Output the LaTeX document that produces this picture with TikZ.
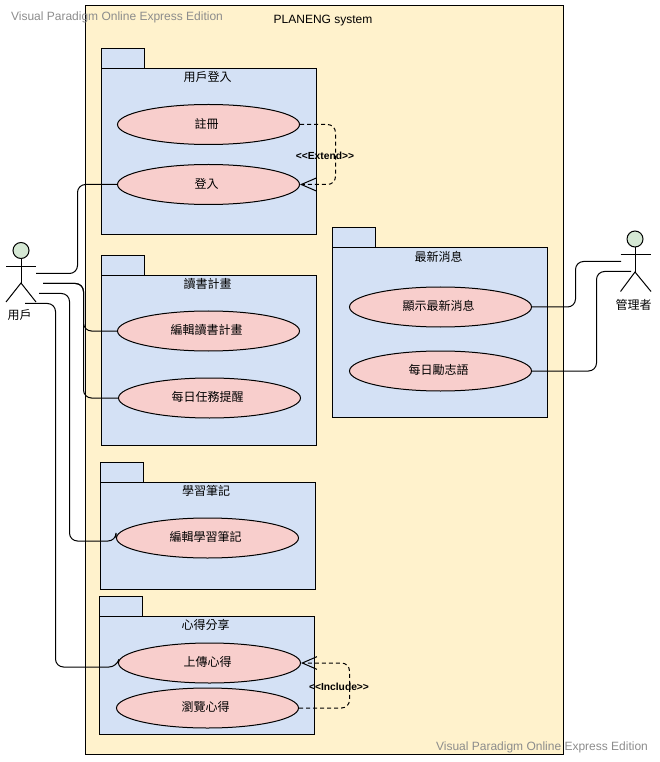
\documentclass[tikz,border=0pt]{standalone}
\usepackage{fontspec}
\setmainfont{Liberation Sans}
\newfontfamily\cjk{Noto Sans CJK TC}
\usetikzlibrary{shapes.geometric,arrows.meta}
\definecolor{sysfill}{HTML}{FFF2CC}
\definecolor{pkgfill}{HTML}{D4E1F5}
\definecolor{casefill}{HTML}{F8CECC}
\definecolor{headfill}{HTML}{D5E8D4}
\newcommand{\caselabel}[1]{\raisebox{2.25pt}{#1\kern3pt}}
\tikzset{
  usecase/.style={ellipse,draw,fill=casefill,minimum width=136.5pt,minimum height=30pt,inner sep=0pt,font=\cjk\fontsize{9}{11}\selectfont},
  pkg/.style={draw,fill=pkgfill},
  title/.style={inner sep=0pt,font=\cjk\fontsize{9}{11}\selectfont},
  link/.style={rounded corners=6pt},
  dep/.style={rounded corners=6pt,dashed,dash pattern=on 3pt off 2.25pt,->},
  stereo/.style={inner sep=0pt,font=\bfseries\fontsize{7.7}{9}\selectfont},
  stamp/.style={inner sep=0pt,text=black!45,font=\fontsize{9}{11}\selectfont}
}
\begin{document}
\begin{tikzpicture}[x=0.75pt,y=-0.75pt,line width=0.75pt,>={Straight Barb[length=11pt,width=9.5pt]}]
  \useasboundingbox (0,0) rectangle (659,762);
  % system boundary
  \draw[fill=sysfill] (85.5,5.5) rectangle (563.5,754.5);
  \node[inner sep=0pt,font=\fontsize{9}{11}\selectfont] (sys) at (323,20.5) {PLANENG system};
  % packages
  \draw[pkg] (101.5,48.5) rectangle (144.5,68.5);
  \draw[pkg] (101.5,68.5) rectangle (316.5,234.5);
  \draw[pkg] (101.5,255.5) rectangle (144.5,275.5);
  \draw[pkg] (101.5,275.5) rectangle (316.5,445.5);
  \draw[pkg] (100.5,462.5) rectangle (143.5,482.5);
  \draw[pkg] (100.5,482.5) rectangle (315.5,589.5);
  \draw[pkg] (99.5,596.5) rectangle (142.5,616.5);
  \draw[pkg] (99.5,616.5) rectangle (314.5,734.5);
  \draw[pkg] (332.5,227.5) rectangle (375.5,247.5);
  \draw[pkg] (332.5,247.5) rectangle (547.5,417.5);
  \node[title] (pkgLogin) at (207.5,76.5) {用戶登入};
  \node[title] (pkgPlan) at (207.5,284) {讀書計畫};
  \node[title] (pkgNote) at (206,491) {學習筆記};
  \node[title] (pkgShare) at (205.5,624.5) {心得分享};
  \node[title] (pkgNews) at (438.5,257) {最新消息};
  % use cases
  \node[usecase] (register) at (208.5,124.5) {\caselabel{註冊}};
  \node[usecase] (login) at (208.5,184.5) {\caselabel{登入}};
  \node[usecase] (editPlan) at (208.5,331) {\caselabel{編輯讀書計畫}};
  \node[usecase] (remind) at (209.5,398) {\caselabel{每日任務提醒}};
  \node[usecase] (editNote) at (207.5,538) {\caselabel{編輯學習筆記}};
  \node[usecase] (upload) at (209.5,663) {\caselabel{上傳心得}};
  \node[usecase] (browse) at (207.5,708) {\caselabel{瀏覽心得}};
  \node[usecase] (news) at (440.5,307) {\caselabel{顯示最新消息}};
  \node[usecase] (quote) at (440.5,371) {\caselabel{每日勵志語}};
  % actor: user
  \draw[fill=headfill] (21,250.5) circle (8);
  \draw (21,258.5)--(21,283);
  \draw (6,266.5)--(36,266.5);
  \draw (6,302)--(21,283)--(36,302);
  \node[title] (user) at (19.5,315) {用戶};
  % actor: admin
  \draw[fill=headfill] (635,239) circle (8);
  \draw (635,247)--(635,272);
  \draw (620.5,255)--(651,255);
  \draw (620.5,291.5)--(635,272)--(651,291.5);
  \node[title] (admin) at (633.5,305) {管理者};
  % free ends at the actors
  \coordinate (u1) at (36,273.5);
  \coordinate (u2) at (43,283.5);
  \coordinate (u3) at (39,293.5);
  \coordinate (u4) at (25,303.5);
  \coordinate (a1) at (621,261.5);
  \coordinate (a2) at (631,271.5);
  % actor links
  \draw[link] (u1) -| (77.5,230) |- (login.west);
  \draw[link] (u2) -| (83.5,310) |- (editPlan.west);
  \draw[link] (u2) -| (83.5,350) |- (remind.west);
  \draw[link] (u3) -| (69.5,400) |- (116,541) [rounded corners=1pt] -- (editNote.west);
  \draw[link] (u4) -| (55.5,500) |- (117,667) [rounded corners=1pt] -- (upload.west);
  \draw[link] (a1) -| (575.5,290) |- (news.east);
  \draw[link] (a2) -| (596.5,330) |- (quote.east);
  % extend and include
  \draw[dep] (register.east) -| (335.5,150) |- (login.east);
  \draw[dep] (browse.east) -| (349.5,690) |- (upload.east);
  \node[stereo] (ext) at (325,155.5) {<{}<Extend>{}>};
  \node[stereo] (inc) at (339,686.5) {<{}<Include>{}>};
  % watermarks
  \node[stamp] (stamp1) at (117,17) {Visual Paradigm Online Express Edition};
  \node[stamp] (stamp2) at (542,747) {Visual Paradigm Online Express Edition};
\end{tikzpicture}
\end{document}
